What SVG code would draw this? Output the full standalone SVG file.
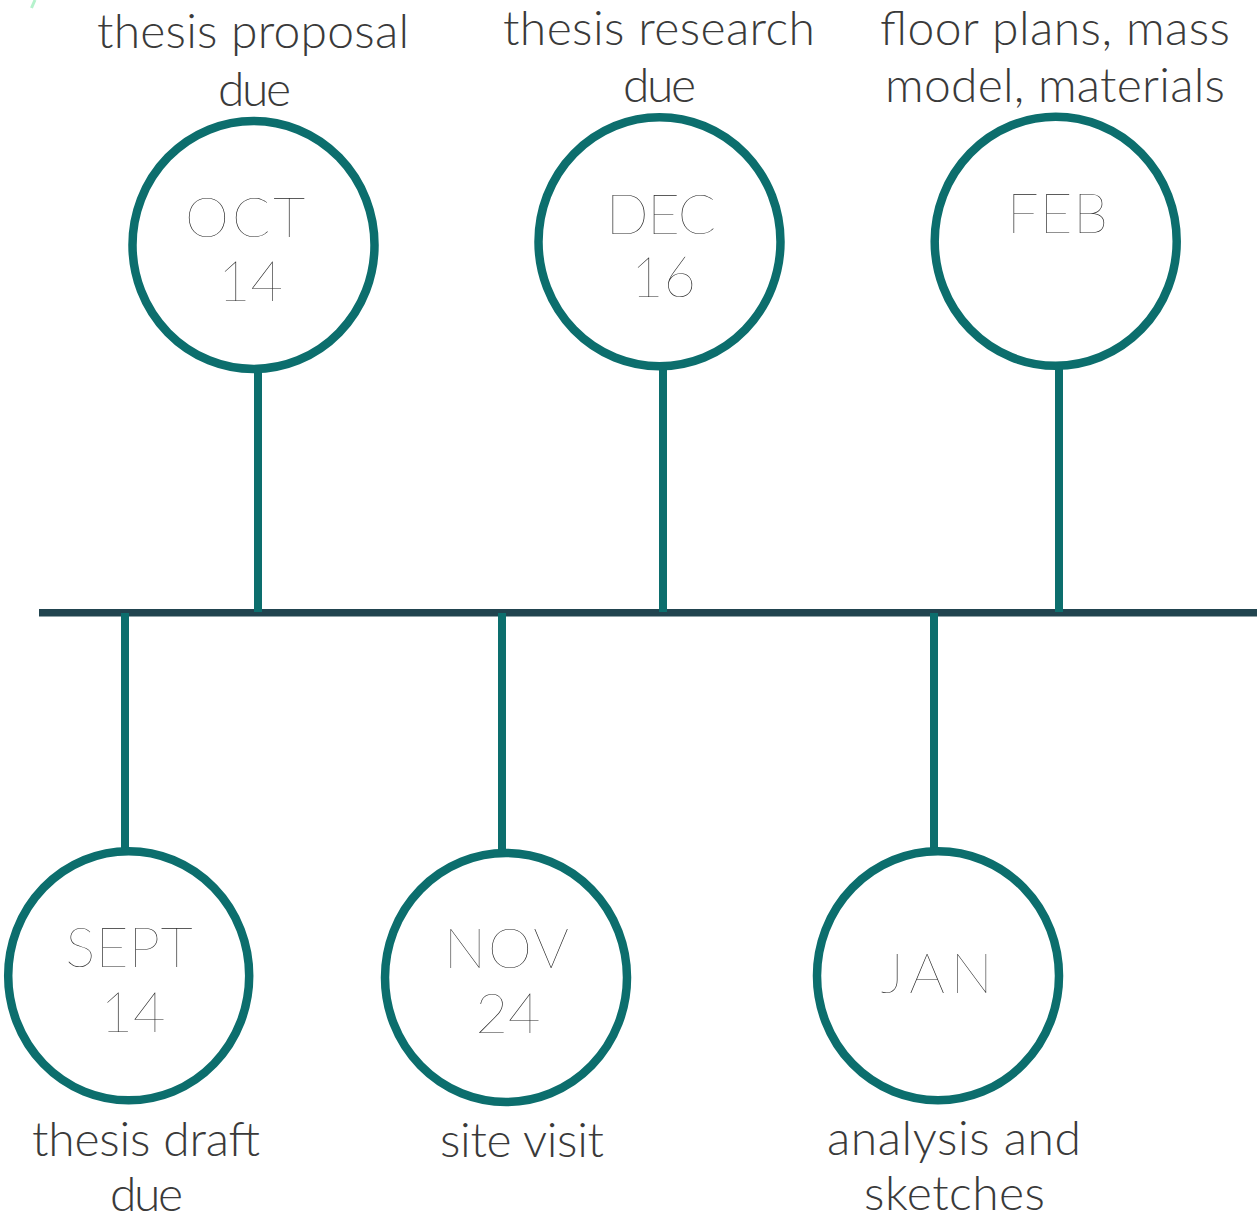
<svg xmlns="http://www.w3.org/2000/svg" width="1257" height="1222" viewBox="0 0 1257 1222">
<style>
.ring{fill:#ffffff;stroke:#0c6e6d;stroke-width:8.5}
.stem{stroke:#0c6e6d;stroke-width:8;fill:none}
.axis{stroke:#21444f;stroke-width:7.5;fill:none}
.lbl{font-family:Lato,Roboto,"Liberation Sans",sans-serif;font-weight:300;font-size:48px;fill:#3a3a3a;text-anchor:middle}
.date{font-family:Lato,Roboto,"Liberation Sans",sans-serif;font-weight:200;font-size:56px;fill:#262626;text-anchor:middle}
</style>
<rect width="1257" height="1222" fill="#ffffff"/>
<path d="M31.5 8 L35 0" stroke="#b5f2cc" stroke-width="3" fill="none"/>
<g id="connectors">
<line class="axis" x1="39" y1="612.8" x2="1257" y2="612.8"/>
<line class="stem" x1="258" y1="370" x2="258" y2="612"/>
<line class="stem" x1="663" y1="368" x2="663" y2="612"/>
<line class="stem" x1="1059" y1="368" x2="1059" y2="612"/>
<line class="stem" x1="125" y1="613" x2="125" y2="850"/>
<line class="stem" x1="502" y1="613" x2="502" y2="852"/>
<line class="stem" x1="934" y1="613" x2="934" y2="850"/>
</g>
<g id="oct">
<ellipse class="ring" cx="253.5" cy="245" rx="121" ry="124"/>
<text class="date" x="245" y="237" textLength="120" lengthAdjust="spacing">OCT</text>
<text class="date" x="250.5" y="301">14</text>
<text class="lbl" x="253" y="48" textLength="312" lengthAdjust="spacing">thesis proposal</text>
<text class="lbl" x="254.5" y="106" textLength="73" lengthAdjust="spacing">due</text>
</g>
<g id="dec">
<ellipse class="ring" cx="659.5" cy="241.7" rx="121" ry="124.5"/>
<text class="date" x="661" y="234" textLength="110" lengthAdjust="spacing">DEC</text>
<text class="date" x="663.5" y="297">16</text>
<text class="lbl" x="659" y="45" textLength="312" lengthAdjust="spacing">thesis research</text>
<text class="lbl" x="659.5" y="102" textLength="73" lengthAdjust="spacing">due</text>
</g>
<g id="feb">
<ellipse class="ring" cx="1055.7" cy="241.3" rx="121" ry="124.5"/>
<text class="date" x="1057.5" y="233" textLength="101" lengthAdjust="spacing">FEB</text>
<text class="lbl" x="1055" y="45" textLength="350" lengthAdjust="spacing">floor plans, mass</text>
<text class="lbl" x="1055" y="102" textLength="340" lengthAdjust="spacing">model, materials</text>
</g>
<g id="sept">
<ellipse class="ring" cx="128.7" cy="975.8" rx="120.5" ry="124.5"/>
<text class="date" x="129" y="967" textLength="127" lengthAdjust="spacing">SEPT</text>
<text class="date" x="133" y="1032">14</text>
<text class="lbl" x="146" y="1156" textLength="228" lengthAdjust="spacing">thesis draft</text>
<text class="lbl" x="146.5" y="1211" textLength="73" lengthAdjust="spacing">due</text>
</g>
<g id="nov">
<ellipse class="ring" cx="506" cy="977.5" rx="121" ry="124.5"/>
<text class="date" x="506.5" y="968" textLength="125" lengthAdjust="spacing">NOV</text>
<text class="date" x="508" y="1033">24</text>
<text class="lbl" x="522" y="1157" textLength="164" lengthAdjust="spacing">site visit</text>
</g>
<g id="jan">
<ellipse class="ring" cx="938" cy="975.8" rx="121" ry="124.5"/>
<text class="date" x="936.7" y="993" textLength="112" lengthAdjust="spacing">JAN</text>
<text class="lbl" x="954" y="1155" textLength="254" lengthAdjust="spacing">analysis and</text>
<text class="lbl" x="954.5" y="1210" textLength="181" lengthAdjust="spacing">sketches</text>
</g>
</svg>
